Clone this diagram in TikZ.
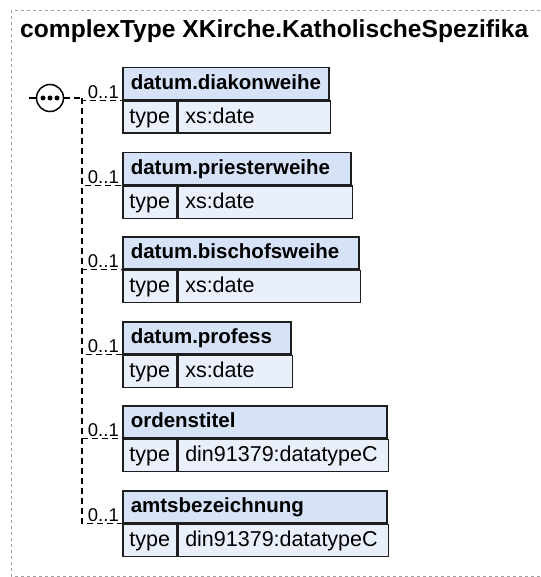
\documentclass[tikz,border=0pt]{standalone}
\usepackage{fontspec}
\setmainfont{Liberation Sans}
\definecolor{hdrfill}{HTML}{D6E2F8}
\definecolor{rowfill}{HTML}{EAF0FB}
\definecolor{brd}{HTML}{1E1E1E}
\definecolor{frame}{HTML}{A0A0A0}
\tikzset{
  rowtext/.style={text height=16pt, text depth=4pt},
  hdr/.style={draw=brd, line width=1.5pt, fill=hdrfill, anchor=north west, minimum height=32pt, inner xsep=8pt, inner ysep=0pt, align=left, rowtext, font=\fontsize{20.5}{24}\selectfont\bfseries},
  tlab/.style={draw=brd, line width=1.5pt, fill=rowfill, anchor=north west, minimum height=32pt, minimum width=54pt, inner sep=0pt, rowtext, font=\fontsize{21.5}{24}\selectfont},
  tval/.style={draw=brd, line width=1.5pt, fill=rowfill, anchor=north west, minimum height=32pt, inner xsep=7pt, inner ysep=0pt, align=left, rowtext, font=\fontsize{21.5}{24}\selectfont},
  conn/.style={line width=1.3pt, dash pattern=on 6pt off 4pt},
  mult/.style={anchor=south east, inner xsep=3pt, inner ysep=1.5pt, font=\fontsize{18.5}{21}\selectfont},
}
\newcommand{\elembox}[5]{%
  \node[hdr, text width=#3-16pt] (h#1) at (122,#2) {#4};
  \node[tlab] (t#1) at (h#1.south west) {type};
  \path let \p1=(t#1.north east), \p2=(h#1.south east) in
    node[tval, text width=\x2-\x1-14pt] (v#1) at (t#1.north east) {#5};
}
\usetikzlibrary{calc}
\begin{document}
\begin{tikzpicture}[x=1pt,y=-1pt]
\useasboundingbox (0,0) rectangle (540,577);
\draw[frame, line width=1pt, dash pattern=on 3pt off 3pt] (540,11) -- (11,11) -- (11,576) -- (540,576);
\node[anchor=base west, inner sep=0pt, font=\fontsize{24.6}{28}\selectfont\bfseries] (title) at (20,38) {complexType XKirche.KatholischeSpezifika};

\elembox{1}{67}{206pt}{datum.diakonweihe}{xs:date}
\elembox{2}{152}{228pt}{datum.priesterweihe}{xs:date}
\elembox{3}{236}{236pt}{datum.bischofsweihe}{xs:date}
\elembox{4}{321}{168pt}{datum.profess}{xs:date}
\elembox{5}{405}{264pt}{ordenstitel}{din91379:datatypeC}
\elembox{6}{490}{264pt}{amtsbezeichnung}{din91379:datatypeC}

\node[circle, draw=black, line width=1.5pt, fill=white, minimum size=27pt, inner sep=0pt] (seq) at (50,98) {};
\foreach \dx in {-7,0,7} \fill (50+\dx,98) circle (2.5pt);
\draw[line width=1.3pt] (seq.west) -- ++(-7,0);
\coordinate (j) at (82,98);
\draw[conn] (seq.east) -- (j);
\foreach \i in {1,...,6} {
  \draw[conn] (j) |- (h\i.south west);
  \node[mult] at (h\i.south west) {0..1};
}
\end{tikzpicture}
\end{document}
